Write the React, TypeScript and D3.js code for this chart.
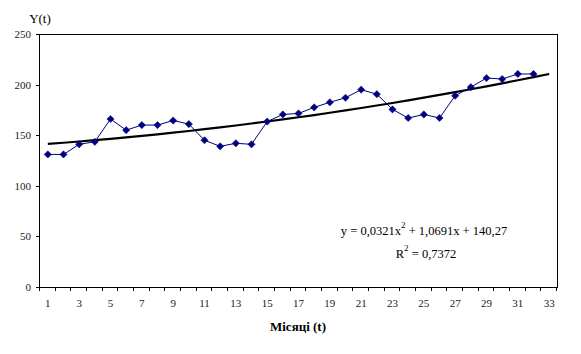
import { useEffect, useRef } from 'react'
import * as d3 from 'd3'

// months 1..33 on the category axis, observed values for months 1..32
const months = d3.range(1, 34)
const observed = [
  131, 131, 141, 143.5, 166, 155, 160, 160, 164.5, 161,
  145, 139, 142, 141, 163.5, 170.5, 171.5, 177.5, 182.5, 187,
  195, 190.5, 175.5, 167, 170.5, 167, 189, 197.5, 206.5, 205.5,
  210.5, 210.5,
]
// polynomial trend shown on the chart: y = a*x^2 + b*x + c
const trendCoef = [0.0321, 1.0691, 140.27]
const yTicks = [0, 50, 100, 150, 200, 250]

export default function App() {
  const ref = useRef<SVGSVGElement>(null)

  useEffect(() => {
    const svg = d3.select(ref.current)
    svg.selectAll('*').remove()

    const left = 40, right = 557, top = 34, bottom = 287
    const font = 'Liberation Serif, DejaVu Serif, Times New Roman, serif'

    const x = d3.scaleBand<number>().domain(months).range([left, right]).padding(0)
    const cx = (t: number) => (x(t) as number) + x.bandwidth() / 2
    const y = d3.scaleLinear().domain([0, 250]).range([bottom, top])

    // plot frame
    const frame = svg.append('g').attr('stroke', '#000').attr('stroke-width', 1)
    frame.append('line').attr('x1', left).attr('x2', right + 0.5).attr('y1', top + 0.5).attr('y2', top + 0.5)
    frame.append('line').attr('x1', right + 0.5).attr('x2', right + 0.5).attr('y1', top).attr('y2', bottom + 0.5)
    frame.append('line').attr('x1', left - 0.5).attr('x2', left - 0.5).attr('y1', top).attr('y2', bottom + 0.5)
    frame.append('line').attr('x1', left - 4).attr('x2', right + 1).attr('y1', bottom + 0.5).attr('y2', bottom + 0.5)

    // y axis
    const ya = svg.append('g')
      .attr('transform', `translate(${left},0)`)
      .call(d3.axisLeft(y).tickValues(yTicks).tickSize(4).tickPadding(5))
    ya.select('.domain').remove()
    ya.selectAll('line').attr('shape-rendering', 'crispEdges')
    ya.selectAll('text').attr('font-family', font).attr('font-size', 11).attr('fill', '#222')

    // x axis: ticks between categories, labels on odd months
    const xa = svg.append('g')
      .attr('transform', `translate(0,${bottom})`)
      .call(d3.axisBottom(x).tickSize(0).tickPadding(12)
        .tickFormat(d => (d % 2 === 1 ? String(d) : '')))
    xa.select('.domain').remove()
    xa.selectAll('text').attr('font-family', font).attr('font-size', 11).attr('fill', '#222')
    const bounds = months.map(t => x(t) as number).concat([right])
    svg.append('g').selectAll('line')
      .data(bounds)
      .join('line')
      .attr('x1', d => Math.round(d) - 0.5).attr('x2', d => Math.round(d) - 0.5)
      .attr('y1', bottom).attr('y2', bottom + 4)
      .attr('stroke', '#000')

    // trend line
    const [a, b, c] = trendCoef
    const trend = months.map(t => ({ t, v: a * t * t + b * t + c }))
    svg.append('path')
      .datum(trend)
      .attr('d', d3.line<{ t: number; v: number }>().x(d => cx(d.t)).y(d => y(d.v)))
      .attr('fill', 'none').attr('stroke', '#000').attr('stroke-width', 2.2)

    // observed series
    const pts = observed.map((v, i) => ({ t: months[i], v }))
    svg.append('path')
      .datum(pts)
      .attr('d', d3.line<{ t: number; v: number }>().x(d => cx(d.t)).y(d => y(d.v)))
      .attr('fill', 'none').attr('stroke', '#000080').attr('stroke-width', 1)

    svg.append('g').selectAll('path')
      .data(pts)
      .join('path')
      .attr('d', d3.symbol(d3.symbolSquare, 26)())
      .attr('transform', d => `translate(${cx(d.t)},${y(d.v)}) rotate(45)`)
      .attr('fill', '#000080').attr('stroke', '#000080').attr('stroke-width', 0.5)

    // equation
    const eq = svg.append('text')
      .attr('x', 424).attr('y', 235)
      .attr('text-anchor', 'middle')
      .attr('font-family', font).attr('font-size', 12.5)
    eq.append('tspan').text('y = 0,0321x')
    eq.append('tspan').attr('dy', -7).attr('font-size', 9).text('2')
    eq.append('tspan').attr('dy', 7).text(' + 1,0691x + 140,27')

    const r2 = svg.append('text')
      .attr('x', 426).attr('y', 258)
      .attr('text-anchor', 'middle')
      .attr('font-family', font).attr('font-size', 12.5)
    r2.append('tspan').text('R')
    r2.append('tspan').attr('dy', -7).attr('font-size', 9).text('2')
    r2.append('tspan').attr('dy', 7).text(' = 0,7372')

    // axis titles
    svg.append('text')
      .attr('x', 40).attr('y', 23)
      .attr('text-anchor', 'middle')
      .attr('font-family', font).attr('font-size', 13)
      .text('Y(t)')

    svg.append('text')
      .attr('x', 298).attr('y', 331)
      .attr('text-anchor', 'middle')
      .attr('font-family', font).attr('font-size', 13).attr('font-weight', 'bold')
      .text('Місяці (t)')
  }, [])

  return (
    <svg ref={ref} width={581} height={354}
      style={{ position: 'absolute', left: 0, top: 0, background: '#fff' }} />
  )
}
